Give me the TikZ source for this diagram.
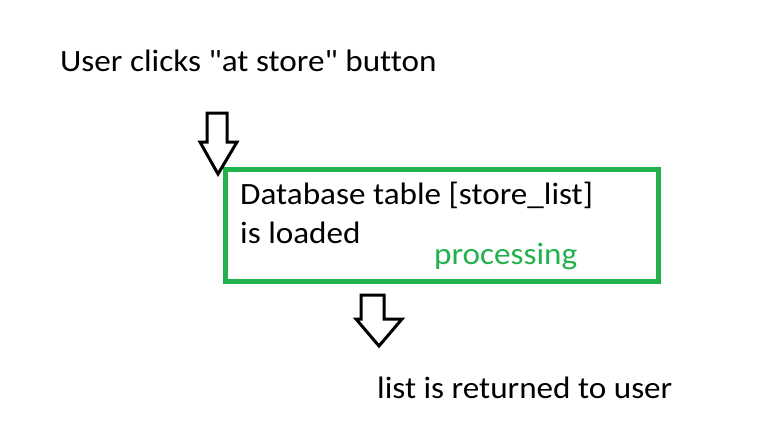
\documentclass[tikz,border=0pt]{standalone}
\usepackage{fontspec}
\newfontfamily\paintfont[Ligatures={NoCommon},FakeStretch=1.07]{Carlito}
\definecolor{paintgreen}{RGB}{34,177,76}
\begin{document}
\begin{tikzpicture}[x=1pt,y=-1pt,
  lbl/.style={anchor=base west,inner sep=0pt,font=\paintfont\fontsize{31}{36}\selectfont},
  blockarrow/.style={draw=black,line width=3pt,line join=miter,fill=white},
  procbox/.style={draw=paintgreen,line width=5pt}]
\useasboundingbox[fill=white] (0,0) rectangle (775,440);
\node[lbl] (user) at (60,71) {User clicks "at store" button};
\draw[procbox] (225.5,169) rectangle (658.5,281);
\node[lbl] (db1) at (240,204) {Database table [store\_list]};
\node[lbl] (db2) at (240,243) {is loaded};
\node[lbl,text=paintgreen] (proc) at (434,264) {processing};
\node[lbl] (ret) at (377,398) {list is returned to user};
% arrow 1
\draw[blockarrow] (207,113) -- (227,113) -- (227,142) -- (237,142) -- (218,174) -- (200,142) -- (207,142) -- cycle;
% arrow 2
\draw[blockarrow] (361,295) -- (384,295) -- (384,319) -- (402,319) -- (379,346) -- (356,319) -- (361,319) -- cycle;
\end{tikzpicture}
\end{document}
